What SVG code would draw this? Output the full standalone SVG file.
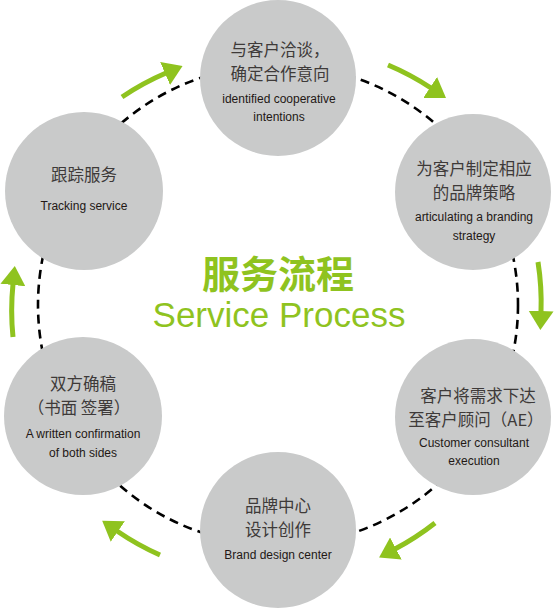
<svg xmlns="http://www.w3.org/2000/svg" width="555" height="609" viewBox="0 0 555 609">
<style>
.node{fill:#c9caca}
.cn{font-family:"Noto Sans CJK SC","Noto Sans",sans-serif;font-size:16.5px;fill:#3e3a39;text-anchor:middle}
.en{font-family:"Liberation Sans",Arial,sans-serif;font-size:12px;fill:#231815;text-anchor:middle}
.arrow{fill:none;stroke:#8fc31f;stroke-width:5;marker-end:url(#head)}
.ring{fill:none;stroke:#000;stroke-width:2.6;stroke-dasharray:9 6}
</style>
<defs>
<marker id="head" markerUnits="userSpaceOnUse" viewBox="0 0 19 25" refX="1" refY="12.5" markerWidth="19" markerHeight="25" orient="auto">
<path d="M0,0 L19,12.5 L0,25 Z" fill="#8fc31f"/>
</marker>
</defs>
<rect width="555" height="609" fill="#fff"/>
<g id="connectors">
<circle class="ring" cx="278" cy="305" r="240"/>
<path class="arrow" d="M122,97 A263,263 0 0 1 166,73"/>
<path class="arrow" d="M388,65 A263,263 0 0 1 431,88"/>
<path class="arrow" d="M538,262 A263,263 0 0 1 541,312"/>
<path class="arrow" d="M435,523 A263,263 0 0 1 395,549"/>
<path class="arrow" d="M160,555 A263,263 0 0 1 117,531"/>
<path class="arrow" d="M13,337 A263,263 0 0 1 13,284"/>
</g>
<g id="title">
<text x="278" y="288" font-family="'Noto Sans CJK SC',sans-serif" font-weight="bold" font-size="38" fill="#8fc31f" text-anchor="middle">服务流程</text>
<text x="279" y="327" font-family="'Liberation Sans',Arial,sans-serif" font-size="35" fill="#8fc31f" text-anchor="middle">Service Process</text>
</g>
<g id="node1">
<circle class="node" cx="278" cy="78" r="78"/>
<text class="cn" x="280" y="56">与客户洽谈，</text>
<text class="cn" x="280" y="80">确定合作意向</text>
<text class="en" x="279" y="103">identified cooperative</text>
<text class="en" x="279" y="121">intentions</text>
</g>
<g id="node2">
<circle class="node" cx="473" cy="192" r="78"/>
<text class="cn" x="474" y="175">为客户制定相应</text>
<text class="cn" x="474" y="199">的品牌策略</text>
<text class="en" x="474" y="221">articulating a branding</text>
<text class="en" x="474" y="240">strategy</text>
</g>
<g id="node3">
<circle class="node" cx="473" cy="417" r="78"/>
<text class="cn" x="478" y="402">客户将需求下达</text>
<text class="cn" x="476" y="426">至客户顾问（AE）</text>
<text class="en" x="474" y="447">Customer consultant</text>
<text class="en" x="474" y="465">execution</text>
</g>
<g id="node4">
<circle class="node" cx="278" cy="530" r="78"/>
<text class="cn" x="278" y="512">品牌中心</text>
<text class="cn" x="278" y="536">设计创作</text>
<text class="en" x="278" y="559">Brand design center</text>
</g>
<g id="node5">
<circle class="node" cx="83" cy="416" r="79"/>
<text class="cn" x="83" y="390">双方确稿</text>
<text class="cn" x="79" y="414">（书面 签署）</text>
<text class="en" x="83" y="438">A written confirmation</text>
<text class="en" x="83" y="457">of both sides</text>
</g>
<g id="node6">
<circle class="node" cx="84" cy="191" r="79"/>
<text class="cn" x="84" y="181">跟踪服务</text>
<text class="en" x="84" y="210">Tracking service</text>
</g>
</svg>
